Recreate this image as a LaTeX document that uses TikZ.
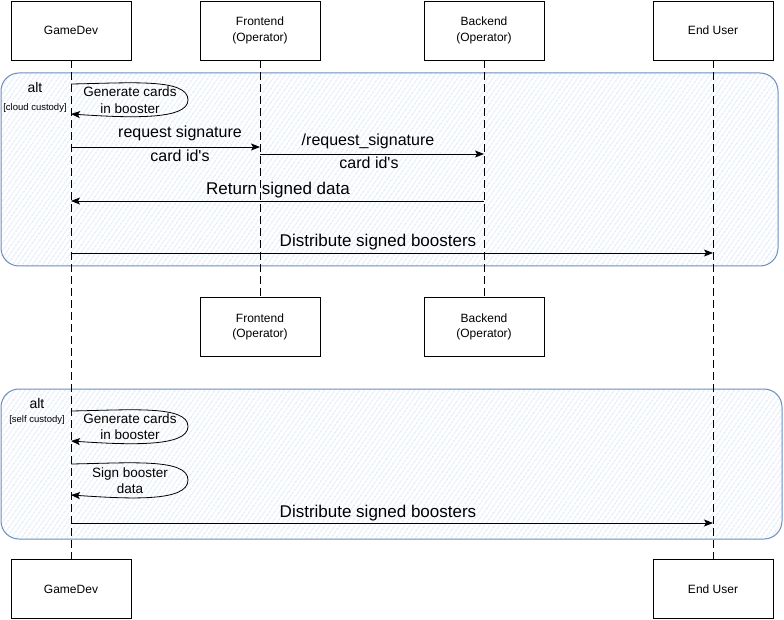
\documentclass[tikz,border=0pt]{standalone}
\usepackage{fontspec}
\setmainfont{Liberation Sans}
\usetikzlibrary{arrows.meta,patterns.meta}
\definecolor{frameline}{HTML}{6C8EBF}
\definecolor{hatch}{HTML}{C2D6F2}
\tikzset{
  part/.style={draw, fill=white, line width=0.8pt, minimum width=120pt, minimum height=59pt, align=center, font=\fontsize{12}{15.5}\selectfont, inner sep=0pt},
  life/.style={dash pattern=on 8pt off 4pt, line width=0.8pt},
  msg/.style={line width=0.8pt, -{Stealth[length=9pt,width=7pt,inset=2pt]}},
  lbl/.style={font=\fontsize{16}{18}\selectfont, inner sep=0pt},
  biglbl/.style={font=\fontsize{17}{19}\selectfont, inner sep=0pt},
  loopl/.style={font=\fontsize{13.5}{16.5}\selectfont, align=center, inner sep=0pt},
  altfill/.style={fill=white, postaction={pattern={Lines[angle=55,distance=4pt,line width=0.8pt]}, pattern color=hatch}},
  altline/.style={draw=frameline, line width=1pt},
  altlbl/.style={font=\fontsize{14}{16}\selectfont, inner sep=0pt},
  condlbl/.style={font=\fontsize{9.5}{11}\selectfont, inner sep=0pt}
}
\begin{document}
\begin{tikzpicture}[x=1pt,y=-1pt]
\useasboundingbox (0,0) rectangle (784,620);
% alt frames
\path[altfill, rounded corners=18pt] (1,73) rectangle (778,266);
\draw[altline, rounded corners=18pt] (1,73) rectangle (778,266);
\path[altfill, rounded corners=18pt] (1,389) rectangle (782,539);
\draw[altline, rounded corners=18pt] (1,389) rectangle (782,539);
\node[altlbl] (alt1) at (35,87) {alt};
\node[condlbl] (cond1) at (35,108) {[cloud custody]};
\node[altlbl] (alt2) at (37,403) {alt};
\node[condlbl] (cond2) at (37,420) {[self custody]};
% participants
\node[part] (gd1) at (71,30.5) {GameDev};
\node[part] (fe1) at (260,30.5) {Frontend\\(Operator)};
\node[part] (be1) at (484,30.5) {Backend\\(Operator)};
\node[part] (eu1) at (713,30.5) {End User};
\node[part] (fe2) at (260,327) {Frontend\\(Operator)};
\node[part] (be2) at (484,327) {Backend\\(Operator)};
\node[part] (gd2) at (71,589) {GameDev};
\node[part] (eu2) at (713,589) {End User};
% lifelines
\draw[life] (gd1.south) -- (gd2.north);
\draw[life] (fe1.south) -- (fe2.north);
\draw[life] (be1.south) -- (be2.north);
\draw[life] (eu1.south) -- (eu2.north);
% anchor points on lifelines
\coordinate (g1) at (71,84);  \coordinate (g2) at (71,114);
\coordinate (g3) at (71,147); \coordinate (f3) at (260,147);
\coordinate (f4) at (260,154); \coordinate (b4) at (484,154);
\coordinate (b5) at (484,201); \coordinate (g5) at (71,201);
\coordinate (g6) at (71,253); \coordinate (u6) at (713,253);
\coordinate (g7) at (71,411); \coordinate (g8) at (71,441);
\coordinate (g9) at (71,464); \coordinate (g10) at (71,495);
\coordinate (g11) at (71,523); \coordinate (u11) at (713,523);
% messages
\draw[msg] (g1) .. controls (130,83) and (188,78) .. (188,100) .. controls (188,120) and (130,118) .. (g2);
\node[loopl] (m1) at (130,100) {Generate cards\\in booster};
\draw[msg] (g3) -- (f3);
\node[lbl] (m2a) at (180,133) {request signature};
\node[lbl] (m2b) at (180,156) {card id\textquotesingle s};
\draw[msg] (f4) -- (b4);
\node[lbl] (m3a) at (368,141) {/request\_signature};
\node[lbl] (m3b) at (369,163) {card id\textquotesingle s};
\draw[msg] (b5) -- (g5);
\node[biglbl] (m4) at (278,190) {Return signed data};
\draw[msg] (g6) -- (u6);
\node[biglbl] (m5) at (378,242) {Distribute signed boosters};
\draw[msg] (g7) .. controls (130,410) and (188,405) .. (188,426.5) .. controls (188,447) and (130,445) .. (g8);
\node[loopl] (m6) at (130,426.5) {Generate cards\\in booster};
\draw[msg] (g9) .. controls (130,463) and (188,458) .. (188,480) .. controls (188,502) and (130,499) .. (g10);
\node[loopl] (m7) at (130,480.5) {Sign booster\\data};
\draw[msg] (g11) -- (u11);
\node[biglbl] (m8) at (378,513) {Distribute signed boosters};
\end{tikzpicture}
\end{document}
